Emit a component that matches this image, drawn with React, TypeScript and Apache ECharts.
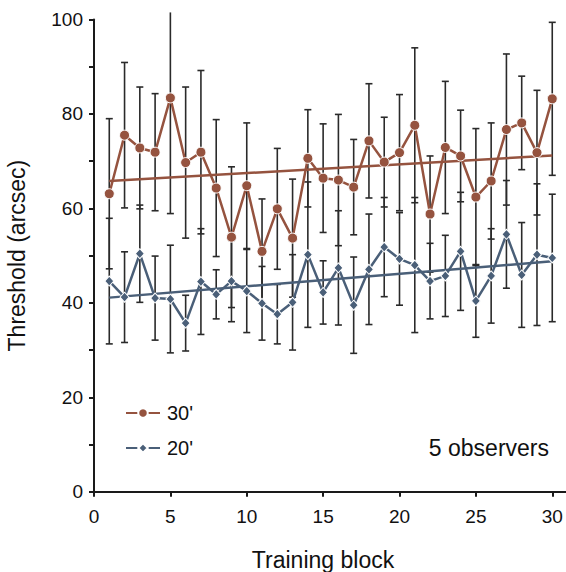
import React, { useEffect, useRef } from "react";
import * as echarts from "echarts";

// ---- data ----
const blocks = [1, 2, 3, 4, 5, 6, 7, 8, 9, 10, 11, 12, 13, 14, 15, 16, 17, 18, 19, 20, 21, 22, 23, 24, 25, 26, 27, 28, 29, 30];
const thr30 = [63.1, 75.5, 72.8, 71.9, 83.4, 69.7, 71.9, 64.3, 53.9, 64.8, 50.9, 59.9, 53.7, 70.6, 66.4, 66.0, 64.5, 74.3, 69.8, 71.8, 77.6, 58.8, 72.9, 71.1, 62.4, 65.8, 76.7, 78.1, 71.8, 83.2];
const err30 = [15.9, 15.4, 12.9, 12.4, 24.5, 16.0, 17.3, 14.5, 14.9, 13.3, 11.1, 12.8, 12.5, 10.3, 11.5, 13.9, 10.1, 12.1, 9.5, 12.3, 16.4, 12.3, 14.0, 9.7, 14.5, 12.3, 16.0, 9.9, 13.2, 16.2];
const thr20 = [44.6, 41.2, 50.4, 41.0, 40.8, 35.7, 44.5, 41.8, 44.6, 42.5, 39.9, 37.6, 40.1, 50.2, 42.2, 47.4, 39.5, 47.1, 51.8, 49.3, 48.0, 44.6, 45.7, 50.9, 40.4, 45.7, 54.5, 45.9, 50.2, 49.5];
const err20 = [13.3, 9.6, 10.3, 8.9, 11.4, 5.9, 11.2, 5.2, 8.6, 8.8, 7.8, 6.3, 10.1, 15.4, 6.7, 12.1, 10.2, 11.7, 10.5, 9.8, 14.3, 8.0, 8.6, 12.5, 7.7, 10.0, 11.4, 11.1, 15.0, 13.5];
// fitted trend lines: [value at first block, value at last block]
const fitX = [1, 30];
const fit30 = [65.8, 71.2];
const fit20 = [41.1, 48.8];
const xTicks = [0, 5, 10, 15, 20, 25, 30];
const yLabels = [0, 20, 40, 60, 80, 100];
const seriesNames = ["30'", "20'"];
const annotation = "5 observers";

const BROWN = "#95533f";
const BLUE = "#4a5f78";
const BAR = "#2a2a2a";
const FONT = "'Liberation Sans', Arial, Helvetica, sans-serif";

export default function App() {
  const ref = useRef<HTMLDivElement>(null);
  useEffect(() => {
    const chart = echarts.init(ref.current!, null, { renderer: "svg" });
    const CLIP_TOP = 101.5;
    const renderErr = (params: any, api: any) => {
      const x = api.value(0);
      const lo = api.value(1);
      const hi = api.value(2);
      const clipped = hi > CLIP_TOP;
      const top = api.coord([x, Math.min(hi, CLIP_TOP)]);
      const bot = api.coord([x, lo]);
      const hw = 3.5;
      const st = { stroke: BAR, lineWidth: 1.6 };
      const children: any[] = [
        { type: "line", shape: { x1: top[0], y1: top[1], x2: bot[0], y2: bot[1] }, style: st },
        { type: "line", shape: { x1: bot[0] - hw, y1: bot[1], x2: bot[0] + hw, y2: bot[1] }, style: st },
      ];
      if (!clipped) {
        children.push({ type: "line", shape: { x1: top[0] - hw, y1: top[1], x2: top[0] + hw, y2: top[1] }, style: st });
      }
      return { type: "group", children };
    };
    const errData = (m: number[], e: number[]) => blocks.map((b, i) => [b, m[i] - e[i], m[i] + e[i]]);

    chart.setOption({
      animation: false,
      textStyle: { fontFamily: FONT },
      grid: { left: 94, top: 19.5, right: 0, bottom: 80.3, outerBoundsMode: "none", containLabel: false },
      xAxis: {
        type: "value",
        min: 0,
        max: 30.9,
        interval: 5,
        axisLine: { show: true, lineStyle: { color: "#1a1a1a", width: 2 } },
        axisTick: { show: true, length: 5, customValues: xTicks, lineStyle: { color: "#1a1a1a", width: 2 } },
        axisLabel: { customValues: xTicks, fontSize: 19, margin: 15, color: "#111", fontFamily: FONT },
        splitLine: { show: false },
        name: "Training block",
        nameLocation: "middle",
        nameGap: 57,
        nameTextStyle: { fontSize: 23, color: "#111", fontFamily: FONT, padding: [0, 14, 0, 0] },
      },
      yAxis: {
        type: "value",
        min: 0,
        max: 100,
        interval: 10,
        axisLine: { show: true, lineStyle: { color: "#1a1a1a", width: 2 } },
        axisTick: { show: true, length: 5, lineStyle: { color: "#1a1a1a", width: 2 } },
        axisLabel: { customValues: yLabels, fontSize: 19, margin: 11, color: "#111", fontFamily: FONT },
        splitLine: { show: false },
        name: "Threshold (arcsec)",
        nameLocation: "middle",
        nameGap: 66,
        nameTextStyle: { fontSize: 23, color: "#111", fontFamily: FONT },
      },
      legend: {
        data: seriesNames,
        orient: "vertical",
        left: 120,
        top: 398,
        itemWidth: 34,
        itemHeight: 12,
        itemGap: 15,
        lineStyle: { width: 2 },
        textStyle: { fontSize: 20, color: "#111", fontFamily: FONT, lineHeight: 20, padding: [0, 0, 0, 2] },
      },
      graphic: [
        {
          type: "text",
          style: {
            text: annotation,
            x: 549,
            y: 448,
            textAlign: "right",
            textVerticalAlign: "middle",
            align: "right",
            verticalAlign: "middle",
            fontSize: 23,
            fontFamily: FONT,
            fill: "#111",
          },
        },
      ],
      series: [
        { type: "custom", name: "err30", renderItem: renderErr, data: errData(thr30, err30), encode: { x: 0, y: [1, 2] }, clip: false, z: 1, silent: true },
        { type: "custom", name: "err20", renderItem: renderErr, data: errData(thr20, err20), encode: { x: 0, y: [1, 2] }, clip: false, z: 1, silent: true },
        { type: "line", name: "fit30", data: fitX.map((x, i) => [x, fit30[i]]), symbol: "none", lineStyle: { color: BROWN, width: 2.5 }, z: 2 },
        { type: "line", name: "fit20", data: fitX.map((x, i) => [x, fit20[i]]), symbol: "none", lineStyle: { color: BLUE, width: 2.5 }, z: 2 },
        {
          type: "line",
          name: seriesNames[0],
          data: blocks.map((b, i) => [b, thr30[i]]),
          symbol: "circle",
          symbolSize: 10,
          itemStyle: { color: BROWN, borderColor: "#fff", borderWidth: 1 },
          lineStyle: { color: BROWN, width: 2.5 },
          z: 3,
        },
        {
          type: "line",
          name: seriesNames[1],
          data: blocks.map((b, i) => [b, thr20[i]]),
          symbol: "diamond",
          symbolSize: [9, 10],
          itemStyle: { color: BLUE, borderColor: "#fff", borderWidth: 1 },
          lineStyle: { color: BLUE, width: 2.5 },
          z: 3,
        },
      ],
    });
    return () => chart.dispose();
  }, []);
  return <div ref={ref} style={{ position: "absolute", left: 0, top: 0, width: 566, height: 572 }} />;
}
